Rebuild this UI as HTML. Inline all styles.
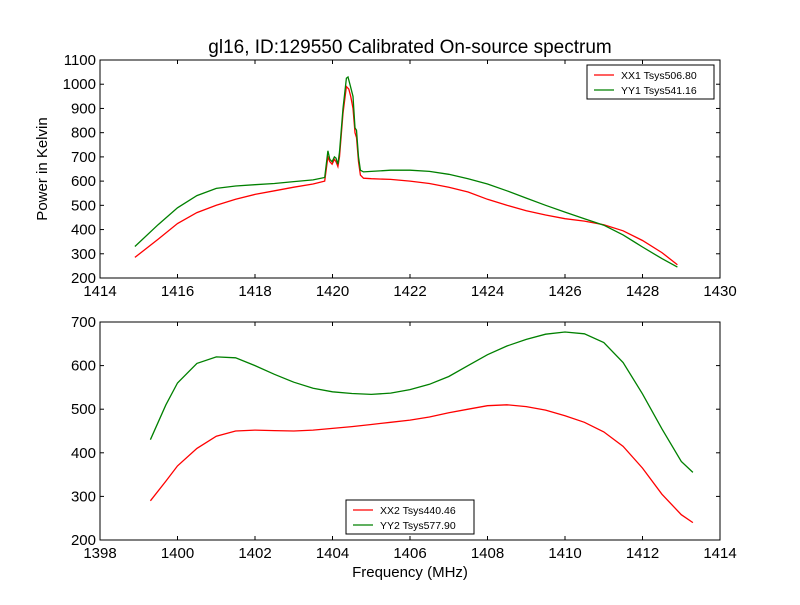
<!DOCTYPE html>
<html><head><meta charset="utf-8"><style>
body{margin:0;background:#fff}
svg text{font-family:"Liberation Sans","DejaVu Sans",sans-serif}
</style></head><body>
<svg id="c" width="800" height="600" xmlns="http://www.w3.org/2000/svg">
<rect width="800" height="600" fill="#fff"/>
<text x="410" y="53" font-size="19" text-anchor="middle">gl16, ID:129550 Calibrated On-source spectrum</text>
<text x="47" y="169" font-size="15" text-anchor="middle" transform="rotate(-90 47 169)">Power in Kelvin</text>
<text x="410" y="577" font-size="15" text-anchor="middle">Frequency (MHz)</text>
<g id="top"></g>
<g id="bot"></g>
</svg>
<script>
const topXTicks=[1414,1416,1418,1420,1422,1424,1426,1428,1430];
const topYTicks=[200,300,400,500,600,700,800,900,1000,1100];
const botXTicks=[1398,1400,1402,1404,1406,1408,1410,1412,1414];
const botYTicks=[200,300,400,500,600,700];
const xx1F=[1414.9,1415.5,1416,1416.5,1417,1417.5,1418,1418.5,1419,1419.5,1419.8,1419.88,1419.93,1419.99,1420.05,1420.09,1420.14,1420.18,1420.27,1420.36,1420.42,1420.47,1420.53,1420.58,1420.62,1420.67,1420.72,1420.8,1421,1421.5,1422,1422.5,1423,1423.5,1424,1424.5,1425,1425.5,1426,1426.5,1427,1427.5,1428,1428.5,1428.9];
const xx1V=[285,360,425,470,500,525,545,560,575,588,600,700,680,670,690,680,660,700,880,990,980,950,900,800,780,680,625,612,610,607,600,590,575,555,525,500,478,460,445,435,420,395,355,305,255];
const yy1F=[1414.9,1415.5,1416,1416.5,1417,1417.5,1418,1418.5,1419,1419.5,1419.8,1419.88,1419.93,1419.99,1420.05,1420.09,1420.14,1420.18,1420.27,1420.36,1420.4,1420.45,1420.53,1420.58,1420.62,1420.67,1420.72,1420.8,1421,1421.5,1422,1422.5,1423,1423.5,1424,1424.5,1425,1425.5,1426,1426.5,1427,1427.5,1428,1428.5,1428.9];
const yy1V=[330,420,490,540,570,580,585,590,598,605,615,725,690,680,700,695,670,720,900,1025,1030,1000,950,820,810,700,645,638,640,645,645,640,628,610,588,560,530,500,472,445,418,378,328,280,245];
const xx2F=[1399.3,1399.7,1400,1400.5,1401,1401.5,1402,1402.5,1403,1403.5,1404,1404.5,1405,1405.5,1406,1406.5,1407,1407.5,1408,1408.5,1409,1409.5,1410,1410.5,1411,1411.5,1412,1412.5,1413,1413.3];
const xx2V=[290,335,370,410,438,450,452,451,450,452,456,460,465,470,475,482,492,500,508,510,506,498,485,470,448,415,365,305,258,240];
const yy2F=[1399.3,1399.7,1400,1400.5,1401,1401.5,1402,1402.5,1403,1403.5,1404,1404.5,1405,1405.5,1406,1406.5,1407,1407.5,1408,1408.5,1409,1409.5,1410,1410.5,1411,1411.5,1412,1412.5,1413,1413.3];
const yy2V=[430,510,560,605,620,618,600,580,562,548,540,536,534,537,545,557,575,600,625,645,660,672,677,673,653,607,535,455,380,355];
const NS="http://www.w3.org/2000/svg";
function mk(p,t,a){const e=document.createElementNS(NS,t);for(const k in a)e.setAttribute(k,a[k]);p.appendChild(e);return e;}
function panel(g,x0,x1,y0,y1,xd,yd,xt,yt,series,leg,pref){
 const sx=v=>x0+(v-xd[0])/(xd[1]-xd[0])*(x1-x0);
 const sy=v=>y1-(v-yd[0])/(yd[1]-yd[0])*(y1-y0);
 series.forEach(s=>{
  const d=s.f.map((f,i)=>(i?'L':'M')+sx(f).toFixed(1)+','+sy(s.v[i]).toFixed(1)).join('');
  const p=mk(g,'path',{d:d,fill:'none',stroke:s.c,'stroke-width':1.3});
  
  
 });
 const fr=mk(g,'rect',{x:x0,y:y0,width:x1-x0,height:y1-y0,fill:'none',stroke:'#000','stroke-width':1});
 
 
 xt.forEach(v=>{const x=sx(v);
  mk(g,'line',{x1:x,x2:x,y1:y1,y2:y1-4,stroke:'#000'});mk(g,'line',{x1:x,x2:x,y1:y0,y2:y0+4,stroke:'#000'});
  const t=mk(g,'text',{x:x,y:y1+18,'font-size':15,'text-anchor':'middle'});t.textContent=v;
  
  });
 yt.forEach(v=>{const y=sy(v);
  mk(g,'line',{x1:x0,x2:x0+4,y1:y,y2:y,stroke:'#000'});mk(g,'line',{x1:x1,x2:x1-4,y1:y,y2:y,stroke:'#000'});
  const t=mk(g,'text',{x:x0-4,y:y+5,'font-size':15,'text-anchor':'end'});t.textContent=v;
  
  });
 const lg=mk(g,'g',{});
 
 
 mk(lg,'rect',{x:leg[0],y:leg[1],width:leg[2],height:34,fill:'#fff',stroke:'#000'});
 series.forEach((s,i)=>{const y=leg[1]+10+i*15;
  mk(lg,'line',{x1:leg[0]+7,x2:leg[0]+27,y1:y,y2:y,stroke:s.c,'stroke-width':1.3});
  const t=mk(lg,'text',{x:leg[0]+34,y:y+4,'font-size':10.5});t.textContent=s.label;
  
  });
}
panel(document.getElementById('top'),100,720,60,278,[1414,1430],[200,1100],topXTicks,topYTicks,
 [{f:xx1F,v:xx1V,c:'#ff0000',name:'xx1',label:'XX1 Tsys506.80'},{f:yy1F,v:yy1V,c:'#008000',name:'yy1',label:'YY1 Tsys541.16'}],[587,65,127],'top');
panel(document.getElementById('bot'),100,720,322,540,[1398,1414],[200,700],botXTicks,botYTicks,
 [{f:xx2F,v:xx2V,c:'#ff0000',name:'xx2',label:'XX2 Tsys440.46'},{f:yy2F,v:yy2V,c:'#008000',name:'yy2',label:'YY2 Tsys577.90'}],[346,500,128],'bottom');
</script>
</body></html>
